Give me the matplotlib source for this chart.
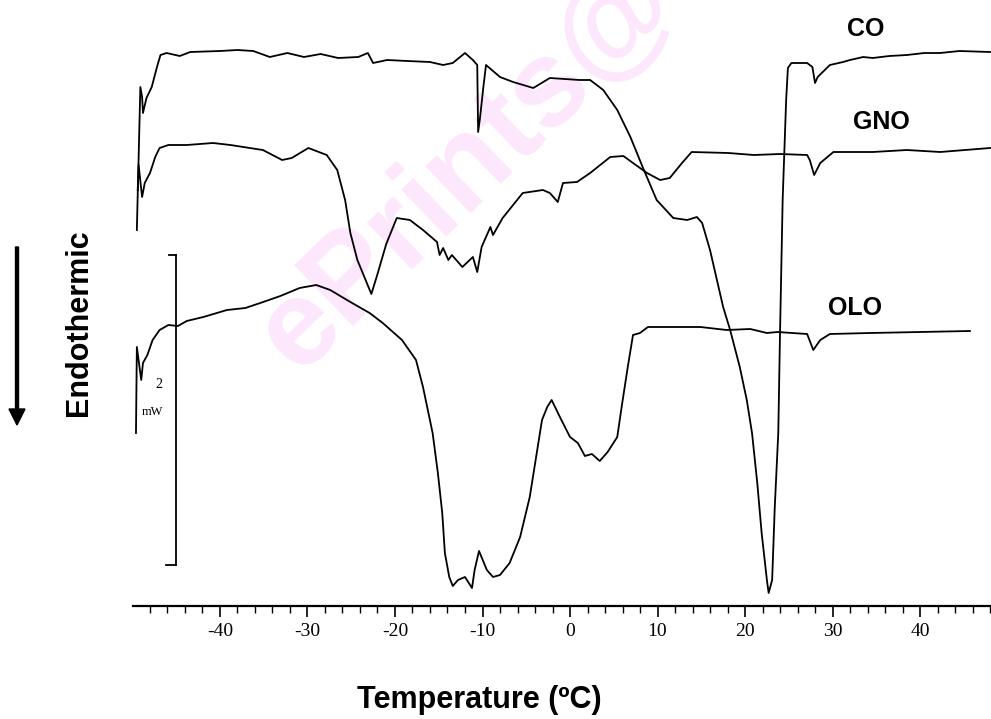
import matplotlib.pyplot as plt
from matplotlib.ticker import MultipleLocator

# DSC heating curves, heat flow in arbitrary units (endothermic down)
co_temp = [-49.5, -49.1, -48.9, -48.8, -48.4, -47.8, -47.2, -46.8, -46.1, -44.6, -43.4, -40.0,
           -38.0, -36.2, -34.3, -32.3, -30.4, -28.5, -26.5, -24.2, -23.1, -22.5, -20.9, -18.6,
           -16.0, -14.5, -13.4, -12.0, -11.1, -10.6, -10.5, -10.3, -9.9, -9.6, -8.0, -6.5, -4.2,
           -2.3, 1.1, 2.3, 3.8, 5.4, 6.9, 8.3, 9.9, 11.8, 13.4, 14.5, 15.1, 16.0, 17.5, 18.3,
           19.4, 20.2, 20.8, 21.4, 21.9, 22.5, 22.7, 23.1, 23.4, 23.8, 24.0, 24.3, 24.7, 24.9,
           25.3, 27.1, 27.7, 28.0, 28.3, 29.7, 31.2, 32.0, 33.5, 34.6, 36.5, 38.5, 40.5, 42.3,
           44.5, 48.0]
co_flow = [489, 632, 622, 606, 621, 632, 652, 664, 666, 663, 667, 668,
           669, 668, 662, 666, 662, 665, 661, 662, 666, 656, 659, 658,
           657, 654, 656, 666, 659, 654, 587, 600, 632, 654, 642, 637, 631,
           641, 639, 639, 629, 609, 582, 552, 519, 501, 499, 502, 496, 469, 412, 389,
           352, 319, 286, 236, 186, 139, 126, 139, 212, 286, 386, 519, 619, 651,
           656, 656, 652, 636, 642, 654, 657, 659, 662, 661, 663, 664, 666, 666,
           668, 667]

gno_temp = [-49.4, -49.3, -48.9, -48.6, -48.0, -47.4, -46.9, -45.9, -43.8, -40.8, -38.8, -36.6,
            -35.1, -32.9, -31.8, -29.9, -27.8, -26.6, -25.7, -25.1, -24.3, -22.7, -22.1, -21.0,
            -19.8, -18.3, -16.8, -15.2, -14.9, -14.5, -13.9, -13.5, -12.3, -11.1, -10.6, -10.1,
            -9.1, -8.8, -7.7, -5.4, -3.1, -2.3, -1.4, -0.8, 0.8, 2.3, 4.6, 6.1, 7.2, 8.8, 10.3,
            11.4, 12.8, 13.9, 18.1, 21.0, 24.0, 27.1, 27.4, 27.9, 28.6, 30.1, 34.6, 38.5, 42.3,
            48.0]
gno_flow = [529, 554, 522, 536, 546, 562, 571, 574, 574, 576, 574, 571,
            569, 559, 561, 571, 564, 549, 519, 486, 459, 425, 442, 475,
            501, 499, 489, 477, 464, 471, 459, 464, 452, 462, 447, 472,
            492, 484, 501, 526, 529, 526, 517, 536, 537, 546, 562, 563, 556, 546, 539,
            541, 556, 567, 566, 564, 565, 564, 559, 544, 556, 567, 567, 569, 567,
            571]

olo_temp = [-49.6, -49.5, -49.0, -48.8, -48.3, -47.7, -46.9, -45.9, -44.8, -43.8, -41.9, -39.2,
            -37.1, -35.4, -33.1, -30.9, -29.0, -27.4, -25.1, -22.9, -21.4, -19.2, -17.6, -16.8,
            -15.7, -15.1, -14.6, -14.3, -13.8, -13.4, -12.8, -12.0, -11.2, -10.9, -10.4, -9.5,
            -8.8, -8.0, -6.9, -5.7, -4.6, -3.8, -3.2, -2.6, -2.1, -1.1, 0.0, 0.9, 1.7, 2.5, 3.4,
            4.3, 5.4, 5.9, 6.6, 7.2, 8.0, 8.9, 11.1, 14.9, 17.9, 20.6, 22.5, 23.7, 27.1, 27.8,
            28.6, 29.7, 34.3, 40.0, 45.7]
olo_flow = [286, 372, 339, 356, 364, 379, 389, 394, 393, 398, 402, 409,
            411, 416, 423, 431, 434, 429, 417, 406, 396, 379, 359, 332,
            286, 246, 206, 166, 142, 133, 139, 142, 131, 149, 168, 149,
            142, 144, 156, 182, 222, 266, 299, 312, 319, 301, 282, 276, 263, 265, 258,
            267, 282, 312, 352, 384, 386, 392, 392, 392, 389, 390, 386, 387, 385, 369,
            379, 385, 386, 387, 388]

# 2 mW scale bar
bar_temp = -45.0
bar_flow = [154, 464]

fig = plt.figure(figsize=(9.91, 7.19), dpi=100)
ax = fig.add_axes([133 / 991, 113 / 719, 858 / 991, 606 / 719])
ax.set_facecolor('none')

# watermark (runs off the top edge, as in the scan)
ax.text(468 / 991, 1 - 167 / 719, "ePrints@", transform=fig.transFigure, rotation=44,
        fontsize=88, fontweight='bold', color='#fde7fc', ha='center', va='center',
        family='Liberation Sans', zorder=0)

for t, f in [(co_temp, co_flow), (gno_temp, gno_flow), (olo_temp, olo_flow)]:
    ax.plot(t, f, color='black', lw=1.3, zorder=2)

ax.plot([bar_temp, bar_temp], bar_flow, color='black', lw=1.3)
ax.plot([bar_temp - 0.8, bar_temp], [bar_flow[1], bar_flow[1]], color='black', lw=1.3)
ax.plot([bar_temp - 1.2, bar_temp], [bar_flow[0], bar_flow[0]], color='black', lw=1.3)
ax.text(-47.0, 334, "2", family='Liberation Serif', fontsize=10, ha='center', va='center')
ax.text(-47.7, 307, "mW", family='Liberation Serif', fontsize=9, ha='center', va='center')

ax.set_xlim(-49.94, 48.11)
ax.set_ylim(113, 719)
for s in ['top', 'left', 'right']:
    ax.spines[s].set_visible(False)
ax.spines['bottom'].set_linewidth(1.6)
ax.set_yticks([])
ax.xaxis.set_major_locator(MultipleLocator(10))
ax.xaxis.set_minor_locator(MultipleLocator(2))
ax.tick_params(axis='x', which='major', length=8, width=1.2, pad=4)
ax.tick_params(axis='x', which='minor', length=5, width=1.0)
ax.set_xticks(range(-40, 50, 10))
ax.set_xticklabels(['-40', '-30', '-20', '-10', '0', '10', '20', '30', '40'],
                   family='Liberation Serif', fontsize=14)

fig.text(479 / 991, 1 - 700 / 719, "Temperature (ºC)", fontsize=22, fontweight='bold',
         family='Liberation Sans', ha='center', va='center')
fig.text(79 / 991, 1 - 323 / 719, "Endothermic", fontsize=22, fontweight='bold',
         family='Liberation Sans', rotation=90, ha='center', va='center')
fig.patches.append(plt.matplotlib.patches.FancyArrow(
    17 / 991, 1 - 247 / 719, 0, -178 / 719, width=3 / 991, head_width=16 / 991,
    head_length=16 / 719, length_includes_head=True, color='black', transform=fig.transFigure))

for name, px, py in [("CO", 866, 29), ("GNO", 881, 122), ("OLO", 855, 308)]:
    fig.text(px / 991, 1 - py / 719, name, fontsize=18, fontweight='bold',
             family='Liberation Sans', ha='center', va='center')

fig.savefig('out.png', dpi=100)
